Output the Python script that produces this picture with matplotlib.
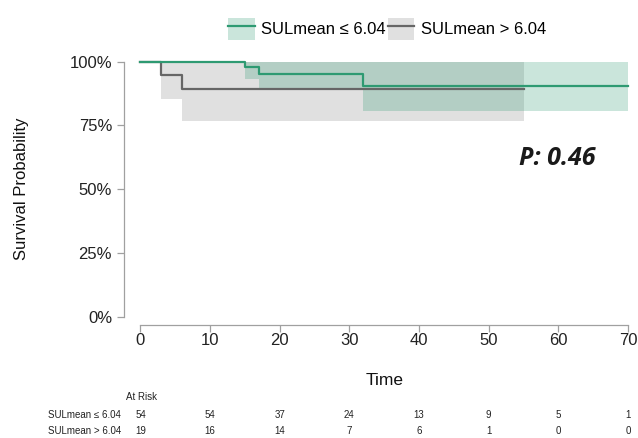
import matplotlib
matplotlib.use("Agg")
import matplotlib.pyplot as plt
import matplotlib.transforms as mtransforms
from matplotlib.patches import Patch
from matplotlib.lines import Line2D
from matplotlib.legend_handler import HandlerTuple

# Kaplan-Meier steps
low_label = "SULmean ≤ 6.04"
low_t = [0, 15, 17, 32, 70]
low_surv = [1.0, 0.978, 0.952, 0.906, 0.906]
low_ci_lo = [1.0, 0.932, 0.893, 0.805, 0.805]
low_ci_hi = [1.0, 1.0, 1.0, 1.0, 1.0]

high_label = "SULmean > 6.04"
high_t = [0, 3, 6, 55]
high_surv = [1.0, 0.949, 0.893, 0.893]
high_ci_lo = [1.0, 0.853, 0.769, 0.769]
high_ci_hi = [1.0, 1.0, 1.0, 1.0]

risk_times = [0, 10, 20, 30, 40, 50, 60, 70]
risk_low = [54, 54, 37, 24, 13, 9, 5, 1]
risk_high = [19, 16, 14, 7, 6, 1, 0, 0]

p_text = "P: 0.46"

green = "#2e9a72"
grey = "#666666"

plt.rcParams["font.family"] = ["Liberation Sans", "DejaVu Sans"]

fig = plt.figure(figsize=(6.38, 4.38), dpi=100)
ax = fig.add_axes([0.2202, 0.2769, 0.7641, 0.5822])

ax.fill_between(high_t, high_ci_lo, high_ci_hi, step="post", color="#999999",
                alpha=0.3, linewidth=0)
ax.fill_between(low_t, low_ci_lo, low_ci_hi, step="post", color=green,
                alpha=0.25, linewidth=0)
ax.step(high_t, high_surv, where="post", color=grey, lw=1.6, clip_on=False)
ax.step(low_t, low_surv, where="post", color=green, lw=1.6, clip_on=False)

ax.set_xlim(0, 70)
ax.set_ylim(0, 1)
ax.set_xticks(range(0, 71, 10))
ax.set_yticks([0, 0.25, 0.5, 0.75, 1.0])
ax.set_yticklabels(["0%", "25%", "50%", "75%", "100%"])

for s in ["top", "right"]:
    ax.spines[s].set_visible(False)
ax.spines["left"].set_position(("outward", 12))
ax.spines["bottom"].set_position(("outward", 6))
for s in ["left", "bottom"]:
    ax.spines[s].set_color("#a0a0a0")
    ax.spines[s].set_linewidth(0.9)
ax.tick_params(axis="both", colors="#a0a0a0", width=0.9, length=5,
               labelsize=12, labelcolor="#222222")
ax.tick_params(axis="x", pad=1)

ax.set_xlabel("Time", fontsize=12.5, color="#111111", labelpad=18)
ax.set_ylabel("Survival Probability", fontsize=12, color="#111111")
ax.yaxis.set_label_coords(-0.228, 0.5)

ax.text(0.855, 0.62, p_text, transform=ax.transAxes, ha="center", va="center",
        fontsize=18, fontweight="bold", fontstyle="italic",
        family=["Open Sans", "DejaVu Sans"], color="#1a1a1a")

# legend on top
h_low = (Patch(facecolor=green, alpha=0.25, edgecolor="none"),
         Line2D([], [], color=green, lw=1.6))
h_high = (Patch(facecolor="#999999", alpha=0.3, edgecolor="none"),
          Line2D([], [], color=grey, lw=1.6))
fig.legend([h_low, h_high], [low_label, high_label], loc="center",
           bbox_to_anchor=(0.607, 0.934), ncol=2, frameon=False, fontsize=12,
           handler_map={tuple: HandlerTuple(ndivide=1, pad=0)},
           handlelength=1.6, handleheight=1.7, handletextpad=0.4,
           columnspacing=0.1, borderpad=0)

# number at risk table
trans = mtransforms.blended_transform_factory(ax.transData, fig.transFigure)
fig.text(126 / 638, 1 - 397 / 438, "At Risk", fontsize=7, va="center", color="#222222")
fig.text(48 / 638, 1 - 415 / 438, low_label, fontsize=7, va="center", color="#222222")
fig.text(48 / 638, 1 - 431 / 438, high_label, fontsize=7, va="center", color="#222222")
for t, a, b in zip(risk_times, risk_low, risk_high):
    ax.text(t, 1 - 415 / 438, str(a), transform=trans, fontsize=7, ha="center",
            va="center", color="#222222")
    ax.text(t, 1 - 431 / 438, str(b), transform=trans, fontsize=7, ha="center",
            va="center", color="#222222")

fig.savefig("out.png", dpi=100)
